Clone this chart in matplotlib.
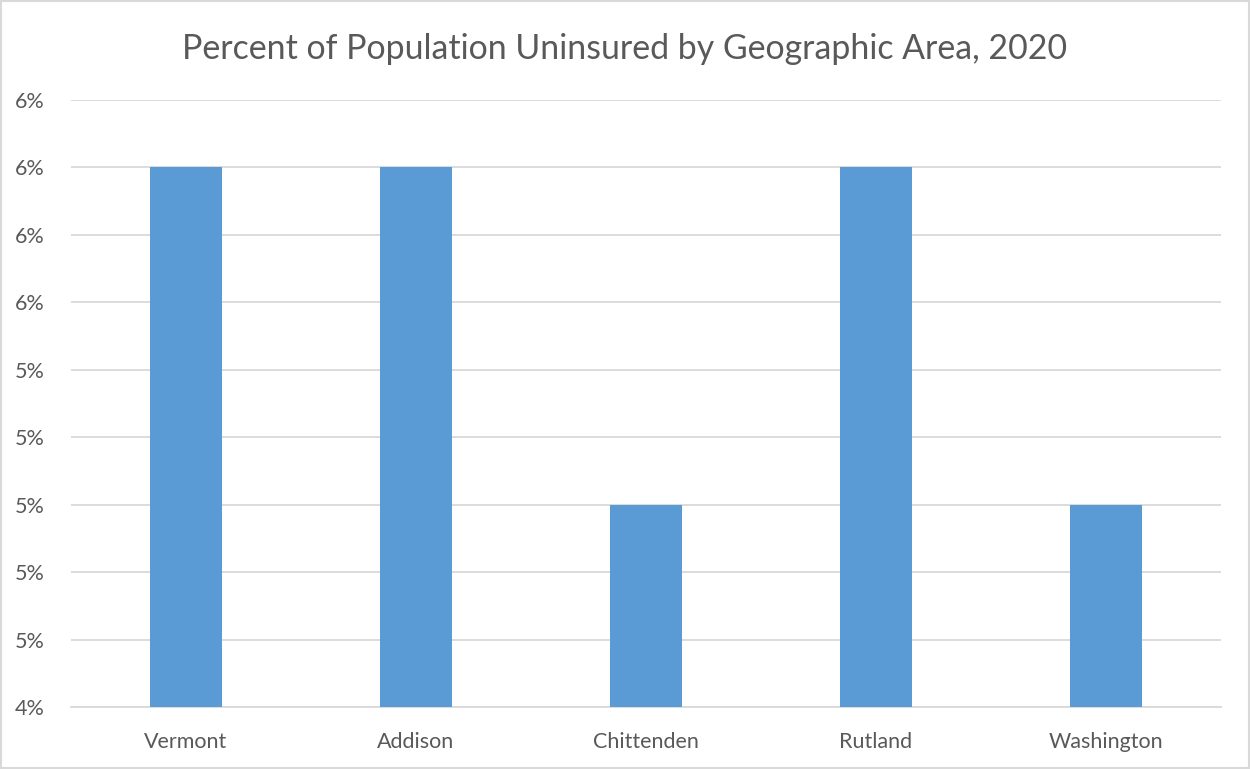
import numpy as np
from matplotlib import pyplot as plt
from matplotlib.ticker import FuncFormatter

areas = ['Vermont', 'Addison', 'Chittenden', 'Rutland', 'Washington']
uninsured = [0.060, 0.060, 0.050, 0.060, 0.050]
y_ticks = [0.044, 0.046, 0.048, 0.050, 0.052, 0.054, 0.056, 0.058, 0.060, 0.062]

text_col = '#595959'
plt.rcParams['font.family'] = ['Lato', 'DejaVu Sans']

fig = plt.figure(figsize=(12.5, 7.69), dpi=100)
ax = fig.add_axes([0.0568, 0.0806, 0.92, 0.7894])

x = np.arange(len(areas))
ax.bar(x, uninsured, width=0.313, color='#5B9BD5', zorder=3)

ax.set_xlim(-0.5, len(areas) - 0.5)
ax.set_ylim(y_ticks[0], y_ticks[-1])
ax.set_yticks(y_ticks)
ax.yaxis.set_major_formatter(FuncFormatter(lambda v, p: '%d%%' % round(v * 100)))
ax.set_xticks(x)
ax.set_xticklabels(areas)
ax.grid(axis='y', color='#D9D9D9', linewidth=1.3, zorder=0)
for s in ['top', 'right', 'left']:
    ax.spines[s].set_visible(False)
ax.spines['bottom'].set_color('#D9D9D9')
ax.spines['bottom'].set_linewidth(1.3)
ax.tick_params(axis='both', length=0, labelsize=15.5, labelcolor=text_col)
ax.tick_params(axis='y', pad=19)
ax.tick_params(axis='x', pad=18)

fig.text(0.5, 0.936, 'Percent of Population Uninsured by Geographic Area, 2020',
         ha='center', va='center', fontsize=24.4, color=text_col)

fig.patches.append(plt.Rectangle((0.001, 0.001), 0.998, 0.998, transform=fig.transFigure,
                                 fill=False, edgecolor='#D9D9D9', linewidth=1.5))

fig.savefig('out.png', dpi=100)
